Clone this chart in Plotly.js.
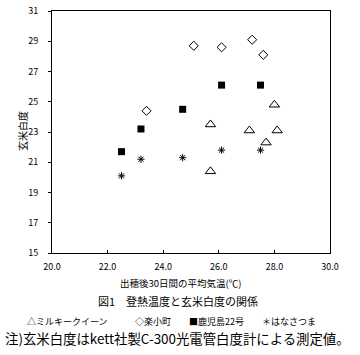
<!DOCTYPE html>
<html>
<head>
<meta charset="utf-8">
<script src="https://cdn.plot.ly/plotly-3.0.1.min.js"></script>
<style>html,body{margin:0;padding:0;background:#fff;}#chart{width:360px;height:355px;}</style>
</head>
<body>
<div id="chart"></div>
<script>
// Data
const seriesNames = ["ミルキークイーン", "楽小町", "鹿児島22号", "はなさつま"];
const legendChars = ["△", "◇", "■", "＊"];
const milkyX = [25.7, 25.7, 27.1, 27.7, 28.0, 28.1];
const milkyY = [23.5, 20.4, 23.1, 22.3, 24.8, 23.1];
const rakuX = [23.4, 25.1, 26.1, 27.2, 27.6];
const rakuY = [24.4, 28.7, 28.6, 29.1, 28.1];
const kagoX = [22.5, 23.2, 24.7, 26.1, 27.5];
const kagoY = [21.7, 23.2, 24.5, 26.1, 26.1];
const hanaX = [22.5, 23.2, 24.7, 26.1, 27.5];
const hanaY = [20.1, 21.2, 21.3, 21.8, 21.8];
const xTickVals = [20, 22, 24, 26, 28, 30];
const yTickVals = [15, 17, 19, 21, 23, 25, 27, 29, 31];
const xTitle = "出穂後30日間の平均気温(℃)";
const yTitle = "玄米白度";
const caption = "図1　登熱温度と玄米白度の関係";
const note = "注)玄米白度はkett社製C-300光電管白度計による測定値。";

const F = '"Noto Sans CJK JP", "Noto Sans", sans-serif';
// plot area in pixels
const L = 52, R = 330, T = 11, B = 253;
const px = v => (v - L) / (R - L);
const py = v => (B - v) / (B - T);

const traces = [
  {x: milkyX, y: milkyY, name: seriesNames[0], mode: 'markers', type: 'scatter',
   marker: {symbol: 'triangle-up-open', size: 9, color: '#000', line: {width: 1, color: '#000'}}},
  {x: rakuX, y: rakuY, name: seriesNames[1], mode: 'markers', type: 'scatter',
   marker: {symbol: 'diamond-open', size: 7, color: '#000', line: {width: 1, color: '#000'}}},
  {x: kagoX, y: kagoY, name: seriesNames[2], mode: 'markers', type: 'scatter',
   marker: {symbol: 'square', size: 7, color: '#000'}},
  {x: hanaX, y: hanaY, name: seriesNames[3], mode: 'markers', type: 'scatter',
   marker: {symbol: 'asterisk-open', size: 6, color: '#000', line: {width: 1, color: '#000'}}}
];

const legendPx = [25, 133, 187, 260];
const annotations = [
  {text: yTitle, x: px(22), y: py(131), xref: 'paper', yref: 'paper', showarrow: false, textangle: -90,
   xanchor: 'center', yanchor: 'middle', font: {family: F, size: 10, color: '#000'}},
  {text: xTitle, x: px(180), y: py(283), xref: 'paper', yref: 'paper', showarrow: false,
   xanchor: 'center', yanchor: 'middle', font: {family: F, size: 9.5, color: '#000'}},
  {text: caption, x: px(178), y: py(301), xref: 'paper', yref: 'paper', showarrow: false,
   xanchor: 'center', yanchor: 'middle', font: {family: F, size: 11, color: '#000'}},
  {text: note, x: px(3), y: py(338), xref: 'paper', yref: 'paper', showarrow: false,
   xanchor: 'left', yanchor: 'middle', font: {family: F, size: 13.4, color: '#000'}}
];
seriesNames.forEach((n, i) => {
  annotations.push({text: legendChars[i] + n, x: px(legendPx[i]), y: py(321), xref: 'paper', yref: 'paper',
    showarrow: false, xanchor: 'left', yanchor: 'middle', font: {family: F, size: 9, color: '#000'}});
});

const layout = {
  width: 360, height: 355,
  margin: {l: L, r: 360 - R, t: T, b: 355 - B, pad: 0},
  paper_bgcolor: '#fff', plot_bgcolor: '#fff',
  showlegend: false,
  font: {family: F, size: 9, color: '#000'},
  xaxis: {range: [20, 30], tickvals: xTickVals, tickformat: '.1f', showgrid: false, zeroline: false,
    showline: true, linecolor: '#000', linewidth: 1, mirror: true,
    ticks: 'inside', ticklen: 3, tickcolor: '#000', ticklabelstandoff: 5,
    tickfont: {family: F, size: 9, color: '#000'}},
  yaxis: {range: [15, 31], tickvals: yTickVals, showgrid: false, zeroline: false,
    showline: true, linecolor: '#000', linewidth: 1, mirror: true,
    ticks: 'outside', ticklen: 3, tickcolor: '#000', ticklabelstandoff: 8,
    tickfont: {family: F, size: 9, color: '#000'}},
  annotations: annotations
};

Plotly.newPlot('chart', traces, layout, {staticPlot: true, displayModeBar: false});
</script>
</body>
</html>
